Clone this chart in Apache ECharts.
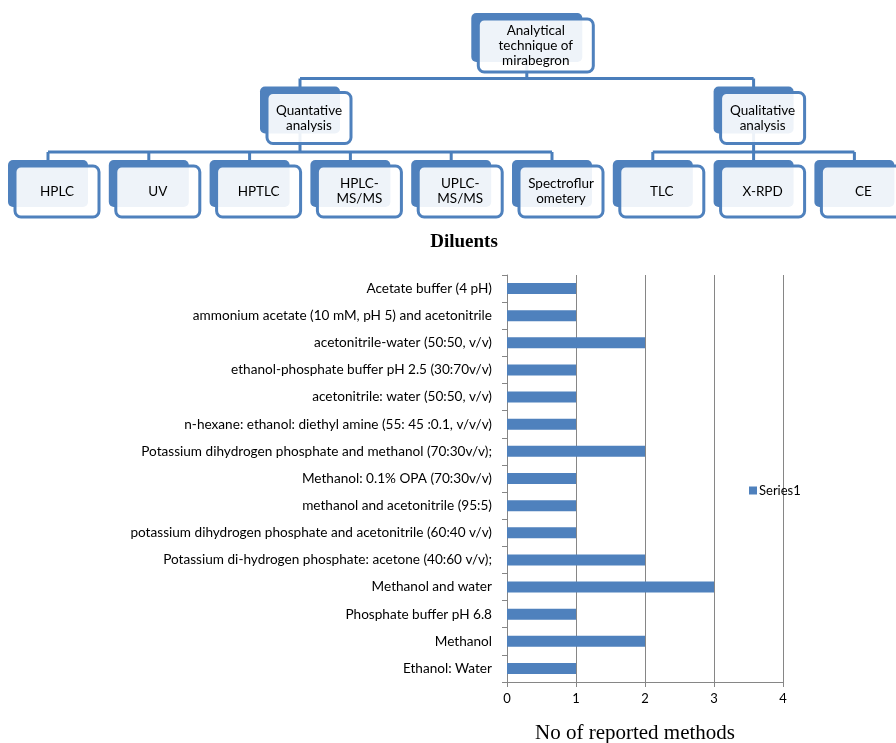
<!DOCTYPE html>
<html>
<head>
<meta charset="utf-8">
<script src="https://cdn.jsdelivr.net/npm/echarts@6/dist/echarts.min.js"></script>
<style>
  html, body { margin: 0; padding: 0; background: #fff; }
  #main { width: 896px; height: 743px; }
</style>
</head>
<body>
<div id="main"></div>
<script>
// hierarchy of analytical techniques (top diagram)
var techTree = {
  name: 'Analytical\ntechnique of\nmirabegron',
  children: [
    { name: 'Quantative\nanalysis', children: [
      { name: 'HPLC' }, { name: 'UV' }, { name: 'HPTLC' },
      { name: 'HPLC-\nMS/MS' }, { name: 'UPLC-\nMS/MS' }, { name: 'Spectroflur\nometery' }
    ] },
    { name: 'Qualitative\nanalysis', children: [
      { name: 'TLC' }, { name: 'X-RPD' }, { name: 'CE' }
    ] }
  ]
};

// bar chart data, top to bottom
var diluents = [
  'Acetate buffer (4 pH)',
  'ammonium acetate (10 mM, pH 5) and acetonitrile',
  'acetonitrile-water (50:50, v/v)',
  'ethanol-phosphate buffer pH 2.5 (30:70v/v)',
  'acetonitrile: water (50:50, v/v)',
  'n-hexane: ethanol: diethyl amine (55: 45 :0.1, v/v/v)',
  'Potassium dihydrogen phosphate and methanol (70:30v/v);',
  'Methanol: 0.1% OPA (70:30v/v)',
  'methanol and acetonitrile (95:5)',
  'potassium dihydrogen phosphate and acetonitrile (60:40 v/v)',
  'Potassium di-hydrogen phosphate: acetone (40:60 v/v);',
  'Methanol and water',
  'Phosphate buffer pH 6.8',
  'Methanol',
  'Ethanol: Water'
];
var reportedMethods = [1, 1, 2, 1, 1, 1, 2, 1, 1, 1, 2, 3, 1, 2, 1];
var xTicks = [0, 1, 2, 3, 4];

var BLUE = '#4F81BD';
var LINE = '#4A7EBB';
var FONT = 'Lato, "Open Sans", sans-serif';

// simple org-chart layout: leaves evenly spaced, parents centred on children
var firstLeafX = 48, leafPitch = 100.8;
var levelY = [37.5, 110, 183.5];
var levelSize = [[111, 49], [80, 47], [80, 47]];
var leafCount = 0;
function layout(node, depth) {
  node.depth = depth;
  node.y = levelY[depth];
  if (node.children) {
    var sum = 0;
    node.children.forEach(function (c) { layout(c, depth + 1); sum += c.x; });
    node.x = sum / node.children.length;
  } else {
    node.x = firstLeafX + leafCount * leafPitch;
    leafCount++;
  }
}
layout(techTree, 0);

var elements = [];
function lineEl(x1, y1, x2, y2) {
  elements.push({
    type: 'line', z: 1,
    shape: { x1: x1, y1: y1, x2: x2, y2: y2 },
    style: { stroke: LINE, lineWidth: 3 }
  });
}
function drawNode(node) {
  var s = levelSize[node.depth];
  var w = s[0], h = s[1];
  if (node.children) {
    var kids = node.children;
    var ks = levelSize[node.depth + 1];
    var barY = kids[0].y - ks[1] / 2 - 8;
    lineEl(node.x, node.y, node.x, barY);
    lineEl(kids[0].x, barY, kids[kids.length - 1].x, barY);
    kids.forEach(function (c) {
      lineEl(c.x, barY, c.x, c.y);
      drawNode(c);
    });
  }
  // back card
  elements.push({
    type: 'rect', z: 2,
    shape: { x: node.x - w / 2, y: node.y - h / 2, width: w, height: h, r: 5 },
    style: { fill: BLUE }
  });
  // front card
  var fx = node.x + 9, fy = node.y + 8;
  elements.push({
    type: 'rect', z: 3,
    shape: { x: fx - (w + 4) / 2, y: fy - (h + 4) / 2, width: w + 4, height: h + 4, r: 6 },
    style: { fill: 'rgba(255,255,255,0.9)', stroke: BLUE, lineWidth: 3 }
  });
  elements.push({
    type: 'text', z: 4,
    x: fx, y: fy,
    style: {
      text: node.name, align: 'center', verticalAlign: 'middle',
      font: '13.5px ' + FONT, lineHeight: 15, fill: '#000'
    }
  });
}
drawNode(techTree);

var chart = echarts.init(document.getElementById('main'));
chart.setOption({
  animation: false,
  backgroundColor: '#fff',
  title: {
    text: 'Diluents',
    left: 459, top: 228, textAlign: 'center',
    textStyle: { fontFamily: '"Liberation Serif", serif', fontWeight: 'bold', fontSize: 19, color: '#000' }
  },
  legend: {
    data: ['Series1'],
    left: 744, top: 479,
    icon: 'rect', itemWidth: 8, itemHeight: 8, itemGap: 4,
    textStyle: { fontFamily: FONT, fontSize: 13, color: '#000', padding: [0, 0, 0, -3] }
  },
  graphic: elements,
  grid: { left: 507, right: 113, top: 275, bottom: 61, containLabel: false, outerBoundsMode: 'none' },
  xAxis: {
    type: 'value', min: 0, max: 4, interval: 1,
    name: 'No of reported methods', nameLocation: 'middle', nameGap: 41,
    nameTextStyle: { fontFamily: '"Liberation Serif", serif', fontSize: 21, color: '#000', padding: [0, 20, 0, 0] },
    axisLine: { show: true, lineStyle: { color: '#868686', width: 1 } },
    axisTick: { show: true, length: 5, lineStyle: { color: '#868686' } },
    axisLabel: {
      margin: 10, fontFamily: FONT, fontSize: 13, color: '#000',
      formatter: function (v) { return xTicks.indexOf(v) >= 0 ? String(v) : ''; }
    },
    splitLine: { show: true, lineStyle: { color: '#868686', width: 1 } }
  },
  yAxis: {
    type: 'category', data: diluents, inverse: true,
    axisLine: { show: true, lineStyle: { color: '#868686', width: 1 } },
    axisTick: { show: true, length: 5, lineStyle: { color: '#868686' } },
    axisLabel: { margin: 15, fontFamily: FONT, fontSize: 13.6, color: '#000', interval: 0 },
    splitLine: { show: false }
  },
  series: [{
    name: 'Series1',
    type: 'bar',
    data: reportedMethods,
    barWidth: 11,
    itemStyle: { color: BLUE }
  }]
});
</script>
</body>
</html>
